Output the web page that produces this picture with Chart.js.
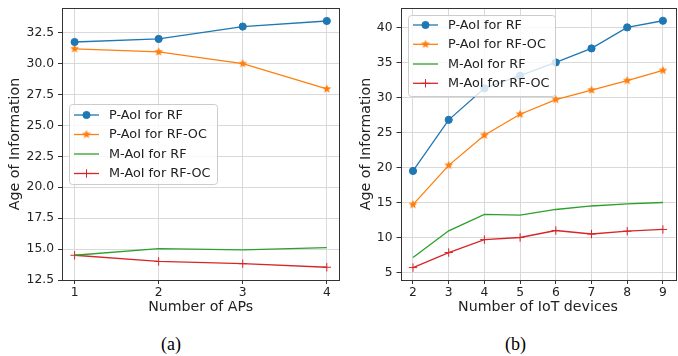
<!DOCTYPE html>
<html>
<head>
<meta charset="utf-8">
<script src="https://cdn.jsdelivr.net/npm/chart.js@4.4.0/dist/chart.umd.min.js"></script>
<style>
    html, body { margin: 0; padding: 0; background: #fff; overflow: hidden; }
    body { width: 678px; height: 356px; position: relative; }
    #wrapA { position: absolute; left: 0; top: 0; }
    #wrapB { position: absolute; left: 340px; top: 0; }
    .cap { position: absolute; top: 334px; font-family: 'Liberation Serif', serif; font-size: 18px; color: #000; }
</style>
</head>
<body>
<div id="wrapA"><canvas id="chartA" width="345" height="320"></canvas></div>
<div id="wrapB"><canvas id="chartB" width="341" height="320"></canvas></div>
<div class="cap" style="left:161px;">(a)</div>
<div class="cap" style="left:505px;">(b)</div>
<script>
// Series names
const seriesNames = ['P-AoI for RF', 'P-AoI for RF-OC', 'M-AoI for RF', 'M-AoI for RF-OC'];

// (a) Age of Information vs number of APs
const apCounts = [1, 2, 3, 4];
const apPaoiRf = [31.75, 32.0, 33.0, 33.45];
const apPaoiRfOc = [31.2, 30.95, 30.0, 27.95];
const apMaoiRf = [14.5, 15.03, 14.93, 15.12];
const apMaoiRfOc = [14.5, 14.0, 13.82, 13.53];
const apYTicks = [12.5, 15.0, 17.5, 20.0, 22.5, 25.0, 27.5, 30.0, 32.5];

// (b) Age of Information vs number of IoT devices
const devCounts = [2, 3, 4, 5, 6, 7, 8, 9];
const devPaoiRf = [19.5, 26.8, 31.3, 33.1, 35.0, 37.0, 40.0, 40.95];
const devPaoiRfOc = [14.7, 20.3, 24.6, 27.6, 29.7, 31.05, 32.4, 33.85];
const devMaoiRf = [7.15, 10.95, 13.3, 13.2, 14.0, 14.5, 14.8, 15.0];
const devMaoiRfOc = [5.7, 7.85, 9.7, 10.0, 11.0, 10.5, 10.9, 11.15];
const devYTicks = [5, 10, 15, 20, 25, 30, 35, 40];

const colors = ['#1f77b4', '#ff7f0e', '#2ca02c', '#d62728'];

Chart.defaults.font.family = "'DejaVu Sans', sans-serif";
Chart.defaults.color = '#222';

// filled five point star, like matplotlib's '*' marker
function makeStar(color, r) {
    const c = document.createElement('canvas');
    const s = Math.ceil(r * 2) + 2;
    c.width = s; c.height = s;
    const g = c.getContext('2d');
    g.fillStyle = color;
    g.beginPath();
    for (let i = 0; i < 10; i++) {
        const rad = i % 2 === 0 ? r : r * 0.45;
        const a = -Math.PI / 2 + i * Math.PI / 5;
        const px = s / 2 + rad * Math.cos(a);
        const py = s / 2 + rad * Math.sin(a);
        if (i === 0) g.moveTo(px, py); else g.lineTo(px, py);
    }
    g.closePath();
    g.fill();
    return c;
}
const starImg = makeStar(colors[1], 4.6);

function makeDatasets(xs, seriesList) {
    const styles = [
        { pointStyle: 'circle', pointRadius: 3.6 },
        { pointStyle: starImg, pointRadius: 4.6 },
        { pointStyle: false, pointRadius: 0 },
        { pointStyle: 'cross', pointRadius: 4.2 }
    ];
    return seriesList.map((vals, i) => ({
        label: seriesNames[i],
        data: xs.map((x, k) => ({ x: x, y: vals[k] })),
        borderColor: colors[i],
        backgroundColor: colors[i],
        borderWidth: 1.3,
        pointStyle: styles[i].pointStyle,
        pointRadius: styles[i].pointRadius,
        pointBorderWidth: 1,
        pointHoverRadius: styles[i].pointRadius,
        tension: 0
    }));
}

// frame around the plot and legend box drawn on the canvas
const framePlugin = {
    id: 'frame',
    beforeDatasetsDraw(chart) {
        const { ctx, chartArea: a } = chart;
        ctx.save();
        ctx.strokeStyle = '#333';
        ctx.lineWidth = 1;
        ctx.strokeRect(Math.round(a.left) + 0.5, Math.round(a.top) + 0.5,
            Math.round(a.right - a.left), Math.round(a.bottom - a.top));
        ctx.restore();
    },
    afterDatasetsDraw(chart, args, opts) {
        const ctx = chart.ctx;
        const x = opts.x, y = opts.y;
        ctx.save();
        ctx.beginPath();
        ctx.roundRect(x + 0.5, y + 0.5, opts.w, opts.h, 3);
        ctx.fillStyle = 'rgba(255,255,255,0.8)';
        ctx.fill();
        ctx.strokeStyle = '#cccccc';
        ctx.lineWidth = 1;
        ctx.stroke();
        chart.data.datasets.forEach((ds, i) => {
            const ry = y + opts.rows[i];
            ctx.strokeStyle = ds.borderColor;
            ctx.lineWidth = ds.borderWidth;
            ctx.beginPath();
            ctx.moveTo(x + 5, ry);
            ctx.lineTo(x + 30, ry);
            ctx.stroke();
            if (ds.pointRadius > 0) {
                ctx.fillStyle = ds.backgroundColor;
                ctx.lineWidth = 1;
                Chart.helpers.drawPoint(ctx, {
                    pointStyle: ds.pointStyle, rotation: 0,
                    radius: ds.pointRadius, borderWidth: 1
                }, x + 17.5, ry);
            }
            ctx.fillStyle = '#222';
            ctx.font = "12.8px 'DejaVu Sans'";
            ctx.textBaseline = 'middle';
            ctx.textAlign = 'left';
            ctx.fillText(ds.label, x + 40, ry + 0.5);
        });
        ctx.restore();
    }
};

function makeChart(id, cfg) {
    return new Chart(document.getElementById(id).getContext('2d'), {
        type: 'line',
        data: { datasets: makeDatasets(cfg.xs, cfg.series) },
        plugins: [framePlugin],
        options: {
            responsive: false,
            animation: false,
            events: [],
            layout: { padding: cfg.padding },
            plugins: {
                legend: { display: false },
                tooltip: { enabled: false },
                frame: cfg.legend
            },
            scales: {
                x: {
                    type: 'linear',
                    min: cfg.xMin,
                    max: cfg.xMax,
                    afterBuildTicks: s => { s.ticks = cfg.xs.map(v => ({ value: v })); },
                    afterFit: s => { s.height = 40; s.paddingLeft = 0; s.paddingRight = 0; },
                    ticks: { font: { size: 12.3 }, padding: 1, maxRotation: 0, color: '#222' },
                    grid: { color: '#d9d9d9', lineWidth: 1, tickLength: 4, tickColor: '#333' },
                    border: { display: false },
                    title: { display: true, text: cfg.xTitle, font: { size: 14.2 }, color: '#222', padding: { top: 0, bottom: 4.5 } }
                },
                y: {
                    min: cfg.yMin,
                    max: cfg.yMax,
                    afterBuildTicks: s => { s.ticks = cfg.yTicks.map(v => ({ value: v })); },
                    afterFit: s => { s.width = cfg.yWidth; s.paddingTop = 0; s.paddingBottom = 0; },
                    ticks: {
                        font: { size: 12.3 }, padding: 4, color: '#222',
                        callback: v => cfg.yDecimals ? v.toFixed(1) : String(v)
                    },
                    grid: { color: '#d9d9d9', lineWidth: 1, tickLength: 4, tickColor: '#333' },
                    border: { display: false },
                    title: { display: true, text: 'Age of Information', font: { size: 14.2 }, color: '#222', padding: { top: cfg.yTitlePad, bottom: 0 } }
                }
            }
        }
    });
}

makeChart('chartA', {
    xs: apCounts,
    series: [apPaoiRf, apPaoiRfOc, apMaoiRf, apMaoiRfOc],
    xMin: 0.85, xMax: 4.15,
    yMin: 12.5, yMax: 34.5,
    yTicks: apYTicks, yDecimals: true,
    yWidth: 62, yTitlePad: 6.5,
    padding: { top: 8, left: 0, right: 3, bottom: 0 },
    xTitle: 'Number of APs',
    legend: { x: 69, y: 104, w: 148, h: 80, rows: [11, 30.5, 50, 69.5] }
});

makeChart('chartB', {
    xs: devCounts,
    series: [devPaoiRf, devPaoiRfOc, devMaoiRf, devMaoiRfOc],
    xMin: 1.65, xMax: 9.35,
    yMin: 3.93, yMax: 42.77,
    yTicks: devYTicks, yDecimals: false,
    yWidth: 60.5, yTitlePad: 18.2,
    padding: { top: 8, left: 0, right: 1, bottom: 0 },
    xTitle: 'Number of IoT devices',
    legend: { x: 68, y: 15, w: 147, h: 81, rows: [10, 29.3, 49, 68.3] }
});
</script>
</body>
</html>
